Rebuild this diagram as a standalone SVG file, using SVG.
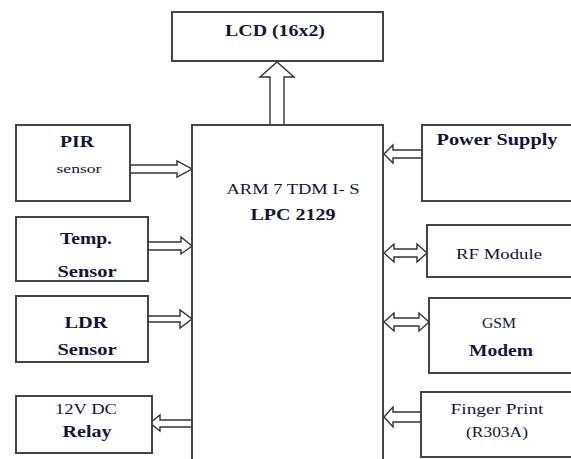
<svg xmlns="http://www.w3.org/2000/svg" width="571" height="459" viewBox="0 0 571 459" font-family="Liberation Serif, Times New Roman, serif">
<style>
.box{fill:#fff;stroke:#444;stroke-width:2}
.arr{fill:#fff;stroke:#333;stroke-width:1.4;stroke-linejoin:miter}
text{fill:#14143a;text-anchor:middle}
.b{font-weight:bold;font-size:17px}
.n{font-size:14px}
.s{font-size:12px}
</style>
<rect width="571" height="459" fill="#fff"/>
<g id="connectors">
<polygon class="arr" points="270,125 270,77 260,77 277,62 294,77 284,77 284,125"/>
<polygon class="arr" points="130,165 177,165 177,161 192,169 177,177 177,173 130,173"/>
<polygon class="arr" points="148,242 181,242 181,237 192,246 181,254 181,250 148,250"/>
<polygon class="arr" points="148,316 180,316 180,310 192,319 180,328 180,322 148,322"/>
<polygon class="arr" points="193,420 160,420 160,415 150,423 160,431 160,427 193,427"/>
<polygon class="arr" points="422,150 393,150 393,145 384,154 393,163 393,158 422,158"/>
<polygon class="arr" points="384,253 394,244 394,249 417,249 417,244 427,253 417,262 417,257 394,257 394,262"/>
<polygon class="arr" points="384,322 394,313 394,318 419,318 419,313 429,322 419,331 419,326 394,326 394,331"/>
<polygon class="arr" points="421,412 393,412 393,407 384,417 393,427 393,422 421,422"/>
</g>
<g id="lcd">
<rect class="box" x="172" y="12" width="211" height="49"/>
<text class="b" x="275" y="36" textLength="100" lengthAdjust="spacingAndGlyphs">LCD (16x2)</text>
</g>
<g id="mcu">
<rect class="box" x="192" y="125" width="191" height="345"/>
<text class="n" x="293" y="194" textLength="133" lengthAdjust="spacingAndGlyphs">ARM 7  TDM I-  S</text>
<text class="b" x="293" y="220" textLength="85" lengthAdjust="spacingAndGlyphs">LPC 2129</text>
</g>
<g id="pir">
<rect class="box" x="16" y="125" width="114" height="76"/>
<text class="b" x="77" y="147" textLength="34" lengthAdjust="spacingAndGlyphs">PIR</text>
<text class="s" x="79" y="173" textLength="45" lengthAdjust="spacingAndGlyphs">sensor</text>
</g>
<g id="temp">
<rect class="box" x="16" y="217" width="132" height="64"/>
<text class="b" x="86" y="244" textLength="52" lengthAdjust="spacingAndGlyphs">Temp.</text>
<text class="b" x="87" y="277" textLength="59" lengthAdjust="spacingAndGlyphs">Sensor</text>
</g>
<g id="ldr">
<rect class="box" x="16" y="296" width="132" height="66"/>
<text class="b" x="86" y="328" textLength="43" lengthAdjust="spacingAndGlyphs">LDR</text>
<text class="b" x="87" y="355" textLength="59" lengthAdjust="spacingAndGlyphs">Sensor</text>
</g>
<g id="relay">
<rect class="box" x="16" y="396" width="136" height="57"/>
<text class="n" x="86" y="414" textLength="62" lengthAdjust="spacingAndGlyphs">12V  DC</text>
<text class="b" x="87" y="437" textLength="49" lengthAdjust="spacingAndGlyphs">Relay</text>
</g>
<g id="power">
<rect class="box" x="422" y="125" width="160" height="76"/>
<text class="b" x="497" y="145" textLength="121" lengthAdjust="spacingAndGlyphs">Power Supply</text>
</g>
<g id="rf">
<rect class="box" x="427" y="225" width="155" height="52"/>
<text class="n" x="499" y="259" textLength="86" lengthAdjust="spacingAndGlyphs">RF  Module</text>
</g>
<g id="gsm">
<rect class="box" x="429" y="298" width="153" height="75"/>
<text class="n" x="499" y="328" textLength="34" lengthAdjust="spacingAndGlyphs">GSM</text>
<text class="b" x="501" y="356" textLength="64" lengthAdjust="spacingAndGlyphs">Modem</text>
</g>
<g id="finger">
<rect class="box" x="421" y="392" width="161" height="65"/>
<text class="n" x="497" y="414" textLength="93" lengthAdjust="spacingAndGlyphs">Finger  Print</text>
<text class="n" x="497" y="437" textLength="62" lengthAdjust="spacingAndGlyphs">(R303A)</text>
</g>
</svg>
